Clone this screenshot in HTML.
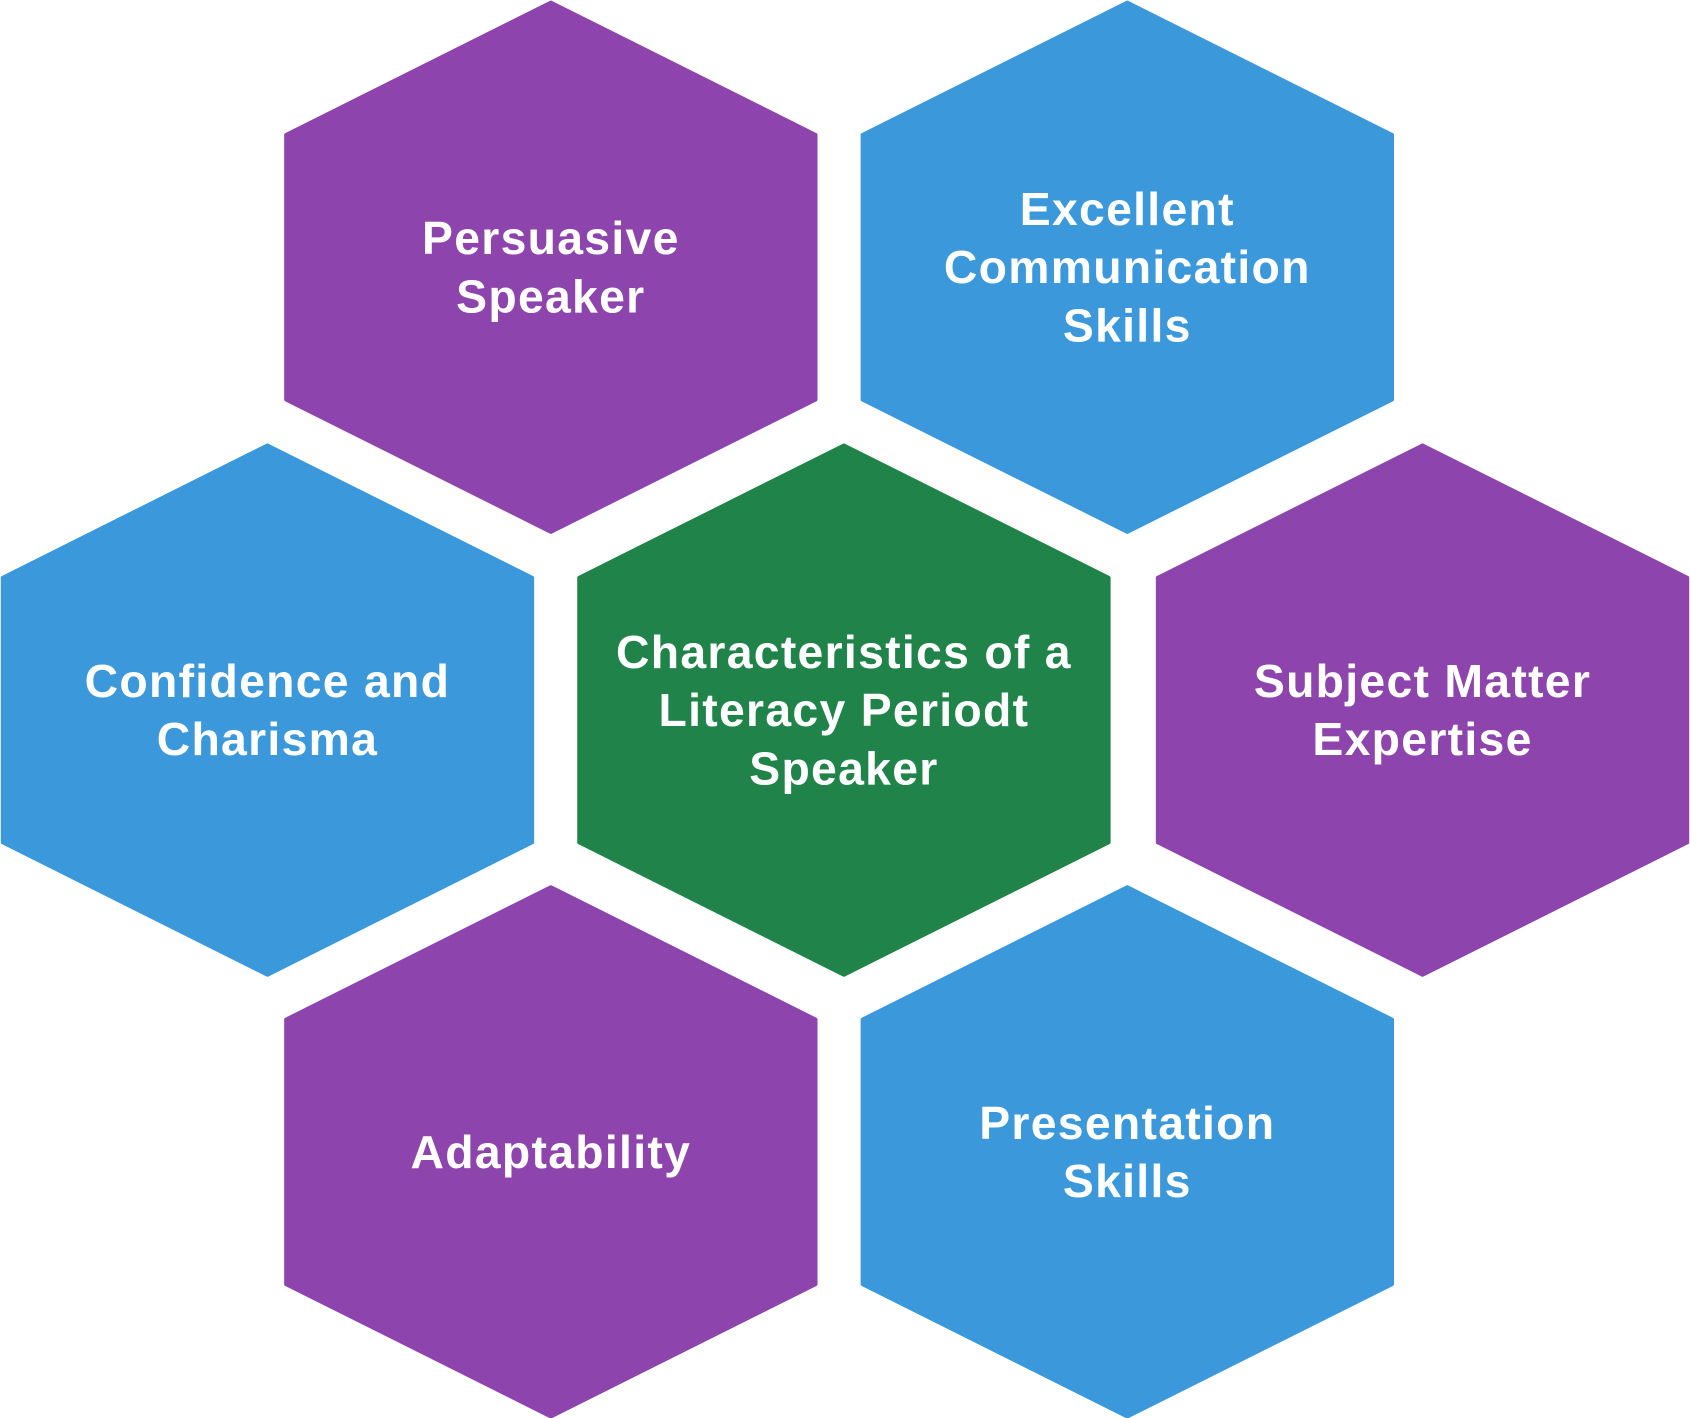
<!DOCTYPE html>
<html><head><meta charset="utf-8"><style>
html,body{margin:0;padding:0;background:#fff;}
svg{display:block;}
text{font-family:"Liberation Sans",sans-serif;font-weight:bold;fill:#fff;font-size:43px;letter-spacing:1.2px;text-anchor:middle;dominant-baseline:central;}
</style></head><body>
<svg width="1690" height="1418" viewBox="0 0 1568 1316" xmlns="http://www.w3.org/2000/svg">
<defs>
<polygon id="h" points="0,-246 246,-123 246,123 0,246 -246,123 -246,-123" stroke-linejoin="round" stroke-width="3"/>
</defs>
<use href="#h" x="511" y="248" fill="#8E44AD" stroke="#8E44AD"/>
<use href="#h" x="1046" y="248" fill="#3A98DB" stroke="#3A98DB"/>
<use href="#h" x="248" y="659" fill="#3A98DB" stroke="#3A98DB"/>
<use href="#h" x="783" y="659" fill="#20844A" stroke="#20844A"/>
<use href="#h" x="1320" y="659" fill="#8E44AD" stroke="#8E44AD"/>
<use href="#h" x="511" y="1069" fill="#8E44AD" stroke="#8E44AD"/>
<use href="#h" x="1046" y="1069" fill="#3A98DB" stroke="#3A98DB"/>

<text x="511" y="221">Persuasive</text>
<text x="511" y="275">Speaker</text>
<text x="1046" y="194">Excellent</text>
<text x="1046" y="248">Communication</text>
<text x="1046" y="302">Skills</text>
<text x="248" y="632">Confidence and</text>
<text x="248" y="686">Charisma</text>
<text x="783" y="605">Characteristics of a</text>
<text x="783" y="659">Literacy Periodt</text>
<text x="783" y="713">Speaker</text>
<text x="1320" y="632">Subject Matter</text>
<text x="1320" y="686">Expertise</text>
<text x="511" y="1069">Adaptability</text>
<text x="1046" y="1042">Presentation</text>
<text x="1046" y="1096">Skills</text>
</svg>
</body></html>
